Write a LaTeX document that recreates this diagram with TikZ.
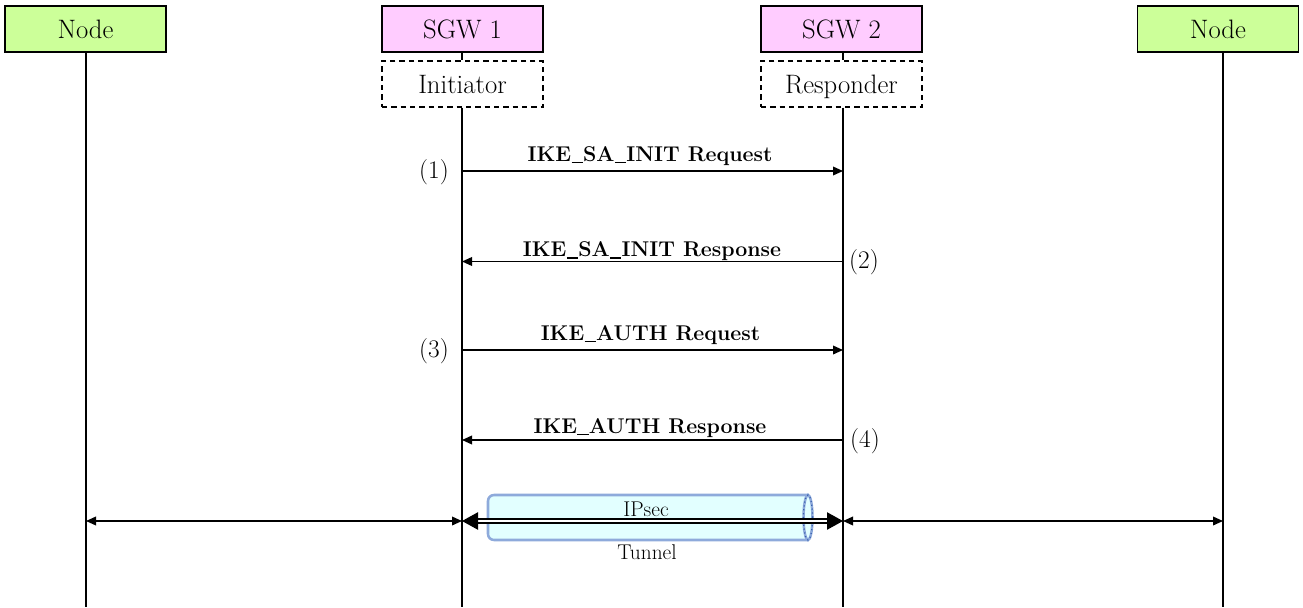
\documentclass[tikz,border=0pt]{standalone}
\usepackage{fontspec}
\usetikzlibrary{arrows.meta}
\definecolor{entgreen}{HTML}{CCFF99}
\definecolor{gwpink}{HTML}{FFCCFF}
\definecolor{tubefill}{HTML}{E2FFFF}
\definecolor{tubeline}{HTML}{8EAADB}
\definecolor{tubedot}{HTML}{3A62B0}
\newcommand\myusc{\kern0.02em\rule[-0.1em]{0.52em}{0.075em}\kern0.02em}
\begin{document}
\begin{tikzpicture}[x=0.75pt,y=-0.75pt,
  box/.style={draw, line width=0.9pt, minimum width=120.75pt, minimum height=34.5pt, inner sep=0pt, text height=14pt, text depth=0pt, font=\fontsize{20}{24}\selectfont},
  ent/.style={box, fill=entgreen},
  gw/.style={box, fill=gwpink},
  role/.style={box, fill=white, dash pattern=on 4pt off 3pt},
  life/.style={line width=1.1pt},
  msg/.style={line width=1.1pt, -{Triangle[length=7.5pt,width=6.5pt]}},
  both/.style={line width=1.1pt, {Triangle[length=7.5pt,width=6.5pt]}-{Triangle[length=7.5pt,width=6.5pt]}},
  lbl/.style={anchor=base, font=\fontsize{16}{19}\selectfont\bfseries},
  num/.style={font=\fontsize{19}{22}\selectfont},
  small/.style={font=\fontsize{16}{19}\selectfont},
  tube/.style={draw=tubeline, fill=tubefill, line width=1.9pt}
]
\useasboundingbox (0,0) rectangle (1303,607);

% header boxes
\node[ent] (n1) at (85.5,29) {Node};
\node[gw] (g1) at (462.5,29) {SGW 1};
\node[role] (r1) at (462.5,84) {Initiator};
\node[gw] (g2) at (841.5,29) {SGW 2};
\node[role] (r2) at (841.5,84) {Responder};
\node[ent] (n2) at (1218,29) {Node};

% lifeline bottoms
\coordinate (b1) at (86,607);
\coordinate (b2) at (462,607);
\coordinate (b3) at (843,607);
\coordinate (b4) at (1223,607);

\draw[life] (n1.south -| b1) -- (b1);
\draw[life] (g1.south -| b2) -- (r1.north -| b2);
\draw[life] (r1.south -| b2) -- (b2);
\draw[life] (g2.south -| b3) -- (r2.north -| b3);
\draw[life] (r2.south -| b3) -- (b3);
\draw[life] (n2.south -| b4) -- (b4);

% messages
\coordinate (m1a) at (462,171); \coordinate (m1b) at (843,171);
\coordinate (m2a) at (462,261.5); \coordinate (m2b) at (843,261.5);
\coordinate (m3a) at (462,350); \coordinate (m3b) at (843,350);
\coordinate (m4a) at (462,440); \coordinate (m4b) at (843,440);

\draw[msg] (m1a) -- (m1b);
\draw[msg] (m2b) -- (m2a);
\draw[msg] (m3a) -- (m3b);
\draw[msg] (m4b) -- (m4a);

\node[lbl] (l1) at (650,161) {IKE\myusc SA\myusc INIT Request};
\node[lbl] (l2) at (652,256.5) {IKE\myusc SA\myusc INIT Response};
\node[lbl] (l3) at (650.5,340) {IKE\myusc AUTH Request};
\node[lbl] (l4) at (650,433) {IKE\myusc AUTH Response};

\node[num] (k1) at (434,172) {(1)};
\node[num] (k2) at (864,262) {(2)};
\node[num] (k3) at (434,351) {(3)};
\node[num] (k4) at (865,441) {(4)};

% tunnel
\draw[tube, rounded corners=4.5pt] (808,495) -- (488,495) -- (488,540) -- (808,540);
\draw[tube] (808,517.5) ellipse [x radius=4.5, y radius=22.5];
\draw[tubedot, line width=0.9pt, dotted] (808,517.5) ellipse [x radius=4.5, y radius=22.5];

% bottom arrows
\coordinate (e1) at (86,521); \coordinate (e2) at (462,521);
\coordinate (e3) at (843,521); \coordinate (e4) at (1223,521);
\draw[both] (e1) -- (e2);
\draw[both] (e3) -- (e4);
\draw[line width=0.9pt, double distance=2.2pt, {Triangle[length=12pt,width=13pt]}-{Triangle[length=12pt,width=13pt]}] (e2) -- (e3);

\node[small] (ip) at (646,509) {IPsec};
\node[small] (tn) at (647,552) {Tunnel};
\end{tikzpicture}
\end{document}
